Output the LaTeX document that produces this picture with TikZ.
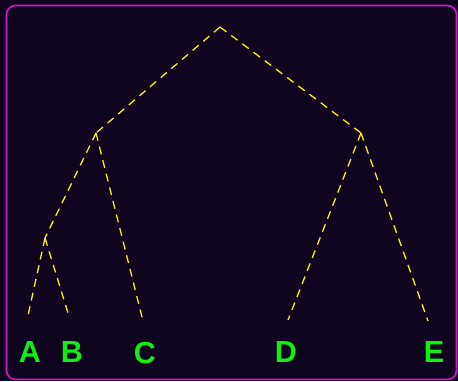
\documentclass[tikz,border=0pt]{standalone}
\usepackage{fontspec}
\setmainfont{Liberation Sans}
\definecolor{bgc}{HTML}{10051F}
\definecolor{framec}{HTML}{D018D0}
\definecolor{edgec}{HTML}{FFEE00}
\definecolor{labc}{HTML}{11EE11}
\begin{document}
\begin{tikzpicture}[x=1pt,y=-1pt,
  edge/.style={edgec,line width=1.3pt,dash pattern=on 8pt off 6pt},
  leaf/.style={labc,font=\fontsize{30.5}{30.5}\selectfont\bfseries,inner sep=0pt}]
\fill[bgc] (0,0) rectangle (458,381);
\useasboundingbox (0,0) rectangle (458,381);
\draw[framec,line width=1.6pt,rounded corners=9pt] (6.5,5.5) rectangle (456.5,379.5);
\coordinate (r) at (220,27);
\coordinate (l) at (96,133);
\coordinate (rr) at (361,133);
\coordinate (ab) at (45,238);
\coordinate (a) at (27,320);
\coordinate (b) at (68,313);
\coordinate (c) at (143,321);
\coordinate (d) at (288,320);
\coordinate (e) at (428,321);
\draw[edge] (r) -- (l);
\draw[edge] (r) -- (rr);
\draw[edge] (l) -- (ab);
\draw[edge] (l) -- (c);
\draw[edge] (ab) -- (a);
\draw[edge] (ab) -- (b);
\draw[edge] (rr) -- (d);
\draw[edge] (rr) -- (e);
\node[leaf] (la) at (30,352.5) {A};
\node[leaf] (lb) at (72,352.5) {B};
\node[leaf] (lc) at (145,352.5) {C};
\node[leaf] (ld) at (286,352.5) {D};
\node[leaf] (le) at (434,352.5) {E};
\end{tikzpicture}
\end{document}
